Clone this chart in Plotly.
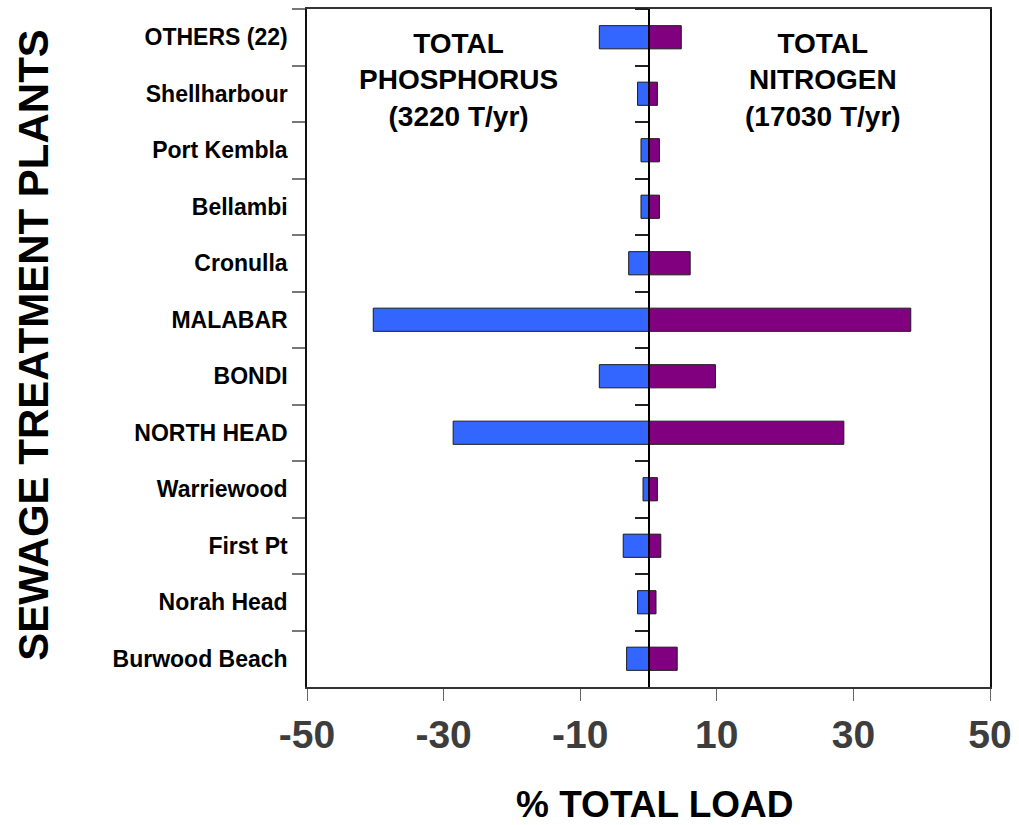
import plotly.graph_objects as go

# ---- data (top to bottom, as drawn) ----
plants = ["OTHERS (22)", "Shellharbour", "Port Kembla", "Bellambi", "Cronulla",
          "MALABAR", "BONDI", "NORTH HEAD", "Warriewood", "First Pt",
          "Norah Head", "Burwood Beach"]
phosphorus_pct = [7.2, 1.6, 1.1, 1.1, 2.9, 40.3, 7.2, 28.6, 0.8, 3.7, 1.6, 3.2]
nitrogen_pct = [4.8, 1.3, 1.6, 1.6, 6.1, 38.4, 9.8, 28.6, 1.3, 1.8, 1.1, 4.2]
x_tickvals = [-50, -30, -10, 10, 30, 50]
x_ticktext = ["-50", "-30", "-10", "10", "30", "50"]

FONT = "Liberation Sans, Arial, sans-serif"
BLUE = "#3366FF"
PURPLE = "#800080"

fig = go.Figure()
fig.add_trace(go.Bar(
    y=plants, x=[-v for v in phosphorus_pct], orientation="h",
    marker=dict(color=BLUE, line=dict(color="#1a1a1a", width=1)),
    width=0.41, name="Total phosphorus", hoverinfo="x+y"))
fig.add_trace(go.Bar(
    y=plants, x=nitrogen_pct, orientation="h",
    marker=dict(color=PURPLE, line=dict(color="#1a1a1a", width=1)),
    width=0.41, name="Total nitrogen", hoverinfo="x+y"))
# invisible trace to carry the centre (zero) axis with its boundary ticks
fig.add_trace(go.Scatter(
    y=plants, x=[0] * len(plants), yaxis="y2", mode="markers",
    marker=dict(opacity=0, size=1), hoverinfo="skip", showlegend=False))

fig.update_layout(
    width=1019, height=825,
    margin=dict(l=307, r=26, t=7, b=138),
    paper_bgcolor="white", plot_bgcolor="white",
    showlegend=False, barmode="overlay",
    font=dict(family=FONT, color="black"),
    xaxis=dict(
        range=[-50, 50], tickvals=x_tickvals, ticktext=x_ticktext,
        showgrid=False, zeroline=False,
        showline=True, linecolor="#333", linewidth=1.5, mirror=True,
        ticks="outside", ticklen=12, tickcolor="#666", tickwidth=1,
        tickfont=dict(family=FONT, size=39, color="#3d3d3d", weight="bold"),
        ticklabelstandoff=0,
    ),
    yaxis=dict(
        type="category", autorange=False, range=[11.5, -0.5],
        categoryorder="array", categoryarray=plants,
        showgrid=False, zeroline=False,
        showline=True, linecolor="#111", linewidth=1.5, mirror=True,
        ticks="outside", tickson="boundaries", ticklen=13,
        tickcolor="#777", tickwidth=1.5,
        tickfont=dict(family=FONT, size=23, color="black", weight="bold"),
        ticklabelstandoff=13,
    ),
    yaxis2=dict(
        type="category", overlaying="y", anchor="free", position=0.5,
        side="left", autorange=False, range=[11.5, -0.5],
        categoryorder="array", categoryarray=plants,
        showgrid=False, zeroline=False, showticklabels=False,
        showline=True, linecolor="black", linewidth=2,
        ticks="outside", tickson="boundaries", ticklen=13,
        tickcolor="#222", tickwidth=1.5,
    ),
    annotations=[
        dict(text="TOTAL<br>PHOSPHORUS<br>(3220 T/yr)", xref="x", yref="paper",
             x=-27.8, y=0.895, xanchor="center", yanchor="middle", showarrow=False,
             font=dict(family=FONT, size=28, color="black", weight="bold")),
        dict(text="TOTAL<br>NITROGEN<br>(17030 T/yr)", xref="x", yref="paper",
             x=25.6, y=0.895, xanchor="center", yanchor="middle", showarrow=False,
             font=dict(family=FONT, size=28, color="black", weight="bold")),
        dict(text="SEWAGE TREATMENT PLANTS", xref="paper", yref="paper",
             x=-0.401, y=0.505, xanchor="center", yanchor="middle", textangle=-90,
             showarrow=False,
             font=dict(family=FONT, size=42, color="black", weight="bold")),
        dict(text="% TOTAL LOAD", xref="paper", yref="paper",
             x=0.51, y=-0.173, xanchor="center", yanchor="middle", showarrow=False,
             font=dict(family=FONT, size=37, color="black", weight="bold")),
    ],
)

fig.write_html("out.html", config={"displayModeBar": False},
               post_script="document.body.style.margin='0';document.body.style.overflow='hidden';")
